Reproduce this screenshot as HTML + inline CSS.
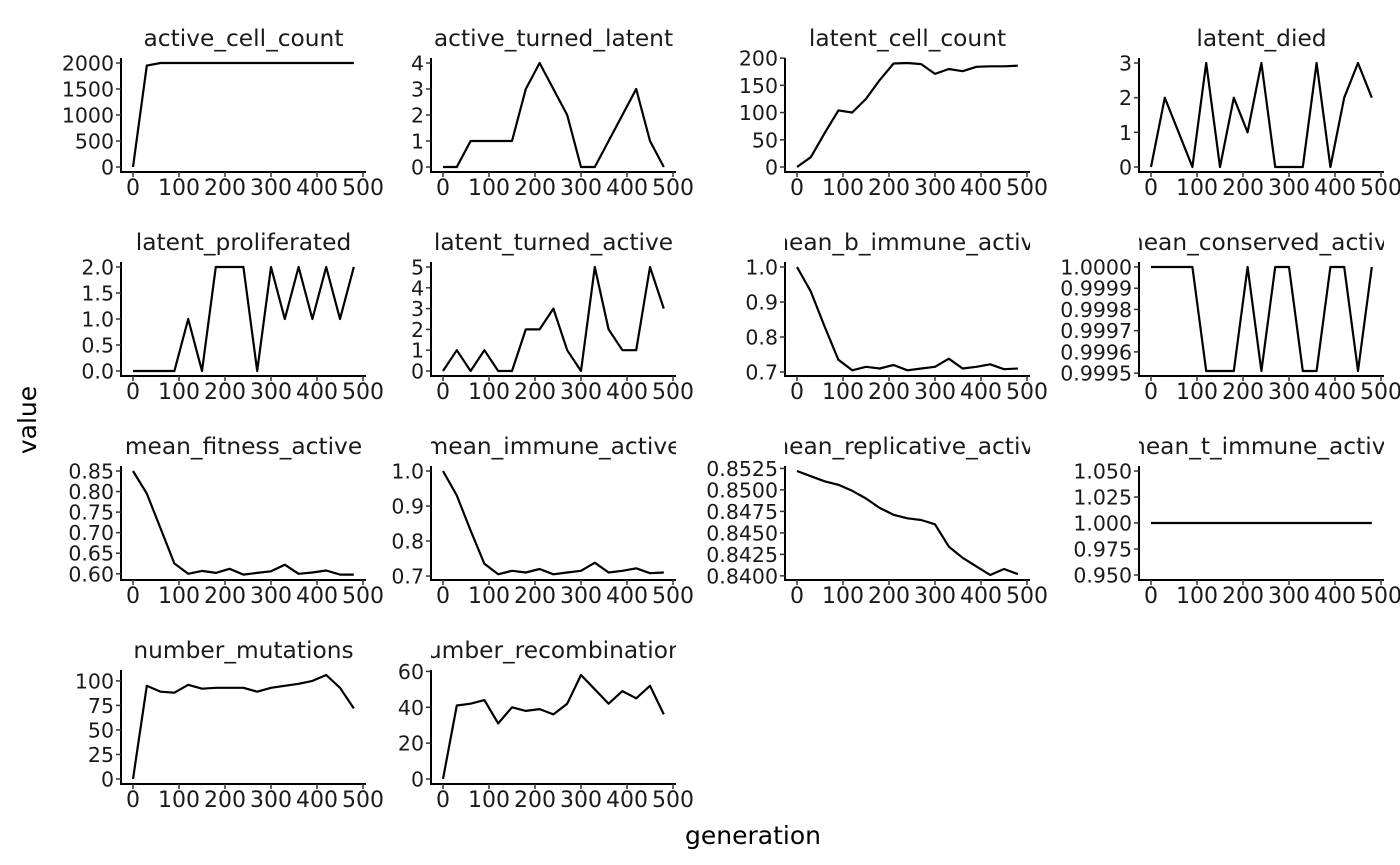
<!DOCTYPE html>
<html><head><meta charset="utf-8"><style>
html,body{margin:0;padding:0;background:#fff;}
svg{display:block;font-family:"DejaVu Sans","Liberation Sans",sans-serif;}
</style></head><body>
<svg id="s" width="1400" height="865" viewBox="0 0 1400 865" xmlns="http://www.w3.org/2000/svg">
<text x="753" y="844" font-size="25" text-anchor="middle" fill="#000">generation</text>
<text transform="translate(36,420) rotate(-90)" font-size="25" text-anchor="middle" fill="#000">value</text>
</svg>
<script>
var NS="http://www.w3.org/2000/svg",S=document.getElementById('s');
function el(t,a,txt){var e=document.createElementNS(NS,t);for(var k in a)e.setAttribute(k,a[k]);if(txt!=null)e.textContent=txt;S.appendChild(e);return e;}
var cols=[133,443,797,1151], rows=[[63,167,58,172],[267,371,262,376],[471,575,466,580],[675,779,670,784]];
var P=[
["active_cell_count",[0,1950,2000,2000,2000,2000,2000,2000,2000,2000,2000,2000,2000,2000,2000,2000,2000],0,2000,[0,500,1000,1500,2000],0],
["active_turned_latent",[0,0,1,1,1,1,3,4,3,2,0,0,1,2,3,1,0],0,4,[0,1,2,3,4],0],
["latent_cell_count",[0,18,62,104,100,125,160,190,191,189,171,180,176,184,185,185,186],0,191,[0,50,100,150,200],0],
["latent_died",[0,2,1,0,3,0,2,1,3,0,0,0,3,0,2,3,2],0,3,[0,1,2,3],0],
["latent_proliferated",[0,0,0,0,1,0,2,2,2,0,2,1,2,1,2,1,2],0,2,[0,0.5,1,1.5,2],1],
["latent_turned_active",[0,1,0,1,0,0,2,2,3,1,0,5,2,1,1,5,3],0,5,[0,1,2,3,4,5],0],
["mean_b_immune_active",[1.0,0.93,0.83,0.735,0.705,0.715,0.71,0.72,0.705,0.71,0.715,0.738,0.71,0.715,0.722,0.708,0.71],0.703,1.0,[0.7,0.8,0.9,1.0],1],
["mean_conserved_active",[1,1,1,1,0.99951,0.99951,0.99951,1,0.99951,1,1,0.99951,0.99951,1,1,0.99951,1],0.99951,1,[0.9995,0.9996,0.9997,0.9998,0.9999,1.0],4],
["mean_fitness_active",[0.85,0.795,0.71,0.625,0.600,0.607,0.602,0.612,0.598,0.602,0.606,0.622,0.600,0.603,0.608,0.598,0.598],0.597,0.85,[0.6,0.65,0.7,0.75,0.8,0.85],2],
["mean_immune_active",[1.0,0.93,0.83,0.735,0.705,0.715,0.71,0.72,0.705,0.71,0.715,0.738,0.71,0.715,0.722,0.708,0.71],0.703,1.0,[0.7,0.8,0.9,1.0],1],
["mean_replicative_active",[0.8522,0.8516,0.8510,0.8506,0.8499,0.8490,0.8479,0.8471,0.8467,0.8465,0.8460,0.8434,0.8421,0.8411,0.8401,0.8408,0.8402],0.8401,0.8522,[0.84,0.8425,0.845,0.8475,0.85,0.8525],4],
["mean_t_immune_active",[1,1,1,1,1,1,1,1,1,1,1,1,1,1,1,1,1],0.95,1.05,[0.95,0.975,1.0,1.025,1.05],3],
["number_mutations",[0,95,89,88,96,92,93,93,93,89,93,95,97,100,106,93,72],0,106,[0,25,50,75,100],0],
["number_recombinations",[0,41,42,44,31,40,38,39,36,42,58,50,42,49,45,52,36],0,58,[0,20,40,60],0]
];
var tc="#1a1a1a";
P.forEach(function(p,i){
  var c=i%4,r=Math.floor(i/4),x0=cols[c],R=rows[r];
  var lo=p[2],hi=p[3],yt=R[0],yb=R[1];
  if(i==11){yt=R[2]+5;yb=R[3]-5;}
  function Y(v){return yb-(v-lo)/(hi-lo)*(yb-yt);}
  function X(g){return x0+g*0.46;}
  var ax=x0-12,right=x0+233;
  var cp=el('clipPath',{id:'c'+i});
  var rc=document.createElementNS(NS,'rect');rc.setAttribute('x',ax);rc.setAttribute('y',R[2]-40);rc.setAttribute('width',right-ax);rc.setAttribute('height',40);cp.appendChild(rc);
  el('text',{x:(ax+right)/2,y:R[2]-12,'font-size':'23.3','text-anchor':'middle',fill:'#1a1a1a','clip-path':'url(#c'+i+')'},p[0]);
  el('line',{x1:ax,y1:R[2],x2:ax,y2:R[3],stroke:'#000','stroke-width':'2'});
  el('line',{x1:ax-1,y1:R[3],x2:right,y2:R[3],stroke:'#000','stroke-width':'2'});
  p[4].forEach(function(t){var y=Y(t);
    el('line',{x1:ax-5,y1:y,x2:ax,y2:y,stroke:'#333','stroke-width':'1.5'});
    el('text',{x:ax-7,y:y+7.5,'font-size':'20.5','text-anchor':'end',fill:tc},t.toFixed(p[5]));});
  [0,100,200,300,400,500].forEach(function(g){var x=X(g);
    el('line',{x1:x,y1:R[3],x2:x,y2:R[3]+5,stroke:'#333','stroke-width':'1.5'});
    el('text',{x:x,y:R[3]+23,'font-size':'22','text-anchor':'middle',fill:tc},String(g));});
  var pts=p[1].map(function(v,k){return X(k*30).toFixed(1)+','+Y(v).toFixed(1);}).join(' ');
  el('polyline',{points:pts,fill:'none',stroke:'#000','stroke-width':'2.2','stroke-linejoin':'round'});
});
</script>
</body></html>
